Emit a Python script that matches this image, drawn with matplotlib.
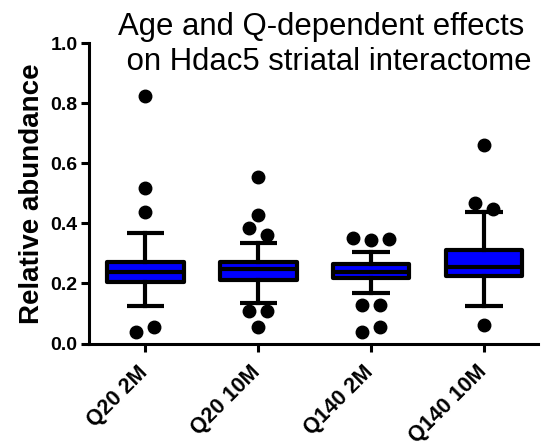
import numpy as np
import matplotlib.pyplot as plt
from matplotlib.transforms import ScaledTranslation

plt.rcParams['font.family'] = ['Liberation Sans', 'DejaVu Sans']

groups = ['Q20 2M', 'Q20 10M', 'Q140 2M', 'Q140 10M']
whislo = [0.125, 0.136, 0.169, 0.126]
q1 = [0.206, 0.211, 0.219, 0.225]
med = [0.239, 0.247, 0.239, 0.254]
q3 = [0.273, 0.271, 0.264, 0.312]
whishi = [0.368, 0.334, 0.305, 0.438]
outliers = [
    [0.825, 0.519, 0.437, 0.054, 0.037],
    [0.554, 0.428, 0.362, 0.384, 0.108, 0.108, 0.056],
    [0.345, 0.353, 0.347, 0.127, 0.127, 0.054, 0.037],
    [0.662, 0.447, 0.467, 0.062],
]

fig = plt.figure(figsize=(5.48, 4.43), dpi=100)
ax = fig.add_axes([0.162, 0.2246, 0.82, 0.6774])

stats = []
for i, g in enumerate(groups):
    stats.append(dict(label=g, whislo=whislo[i], q1=q1[i], med=med[i],
                      q3=q3[i], whishi=whishi[i], fliers=[]))

lw = 3.0
ax.bxp(stats, positions=range(1, 5), widths=0.68, capwidths=0.33,
       patch_artist=True, showfliers=False,
       boxprops=dict(facecolor='#0000ff', edgecolor='black', linewidth=lw,
                     joinstyle='round'),
       medianprops=dict(color='black', linewidth=lw, solid_capstyle='butt'),
       whiskerprops=dict(color='black', linewidth=lw),
       capprops=dict(color='black', linewidth=lw, solid_capstyle='butt'))

ax.set_xlim(0.5, 4.48)
ax.set_ylim(0, 1.0)

# simple beeswarm so that close outliers sit side by side
xs_px = 113.0   # pixels per x unit
ys_px = 300.0   # pixels per y unit
diam = 13.0
step = 9.0
for i, vals in enumerate(outliers):
    placed = []
    for v in vals:
        k = 0
        while True:
            cands = [0.0] if k == 0 else [-k * step, k * step]
            ok = None
            for c in cands:
                if all(np.hypot(c - px, (v - pv) * ys_px) >= diam * 0.98
                       for px, pv in placed):
                    ok = c
                    break
            if ok is not None:
                break
            k += 1
        placed.append([ok, v])
    # center each touching cluster on the box
    n = len(placed)
    lab = list(range(n))
    for a in range(n):
        for b in range(a + 1, n):
            if abs(placed[a][1] - placed[b][1]) * ys_px < diam:
                old, new = lab[b], lab[a]
                lab = [new if l == old else l for l in lab]
    for l in set(lab):
        idx = [j for j in range(n) if lab[j] == l]
        m = np.mean([placed[j][0] for j in idx])
        for j in idx:
            placed[j][0] -= m
    ax.plot([i + 1 + px / xs_px for px, _ in placed], [pv for _, pv in placed],
            'o', color='black', markersize=9, linestyle='none')

for s in ['top', 'right']:
    ax.spines[s].set_visible(False)
for s in ['left', 'bottom']:
    ax.spines[s].set_linewidth(2.2)

ax.set_yticks([0.0, 0.2, 0.4, 0.6, 0.8, 1.0])
ax.set_yticklabels(['0.0', '0.2', '0.4', '0.6', '0.8', '1.0'],
                   fontsize=14, fontweight='bold')
ax.set_xticks(range(1, 5))
ax.set_xticklabels(groups, rotation=45, ha='right', rotation_mode='anchor',
                   fontsize=15.5, fontweight='bold')
ax.tick_params(axis='both', width=2.2, length=6, pad=2)
ax.tick_params(axis='x', pad=7)
shift = ScaledTranslation(-8 / 100, 0, fig.dpi_scale_trans)
for t in ax.get_xticklabels():
    t.set_transform(t.get_transform() + shift)

ax.set_ylabel('Relative abundance', fontsize=20, fontweight='bold', labelpad=4)

fig.text(118 / 548, 1 - 35 / 443, 'Age and Q-dependent effects', ha='left',
         va='baseline', fontsize=22.4)
fig.text(118 / 548, 1 - 70 / 443, ' on Hdac5 striatal interactome', ha='left',
         va='baseline', fontsize=22.4)

fig.savefig('out.png', dpi=100)
